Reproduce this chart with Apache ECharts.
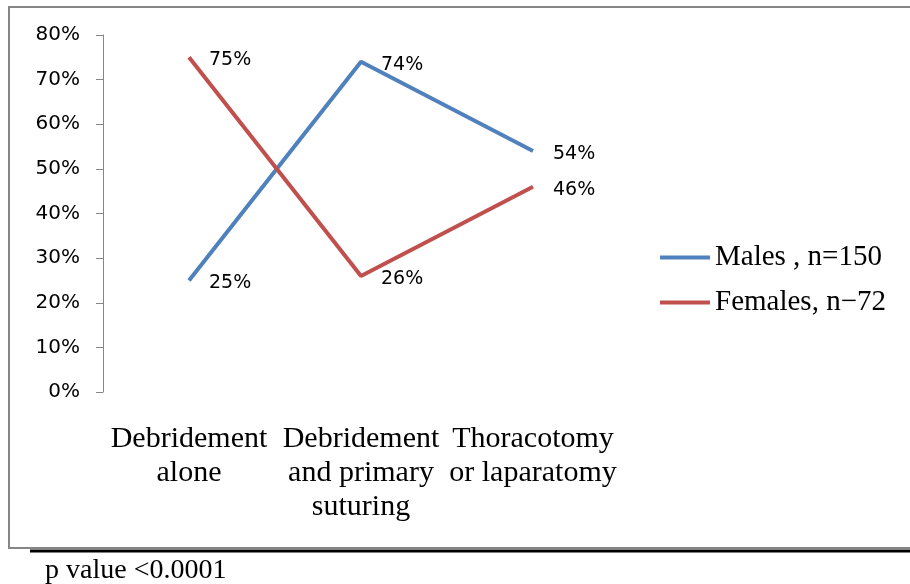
<!DOCTYPE html>
<html>
<head>
<meta charset="utf-8">
<script src="https://cdn.jsdelivr.net/npm/echarts@6/dist/echarts.min.js"></script>
<style>
html,body{margin:0;padding:0;background:#fff;}
#c{width:910px;height:584px;}
</style>
</head>
<body>
<div id="c"></div>
<script>
const categories = ['Debridement\nalone', 'Debridement\nand primary\nsuturing', 'Thoracotomy\nor laparatomy'];
const males = [25, 74, 54];
const females = [75, 26, 46];
const yTicks = [0, 10, 20, 30, 40, 50, 60, 70, 80];
const seriesNames = ['Males , n=150', 'Females, n\u221272'];
const note = 'p value <0.0001';

const chart = echarts.init(document.getElementById('c'));
const labelFont = {show: true, position: 'right', distance: 20, offset: [0, 3], formatter: p => p.value + '%',
  fontFamily: 'DejaVu Sans', fontSize: 19, color: '#000'};
chart.setOption({
  animation: false,
  backgroundColor: '#fff',
  grid: {left: 103, right: 291, top: 35, bottom: 192},
  legend: {
    orient: 'vertical', left: 655, top: 238, itemGap: 16,
    itemWidth: 50, itemHeight: 4, icon: 'rect',
    textStyle: {fontFamily: 'Liberation Serif', fontSize: 29, color: '#000'},
    data: seriesNames
  },
  xAxis: {
    type: 'category', data: categories, boundaryGap: true,
    axisLine: {show: false}, axisTick: {show: false},
    axisLabel: {interval: 0, margin: 30, fontFamily: 'Liberation Serif', fontSize: 30, lineHeight: 34, color: '#000'}
  },
  yAxis: {
    type: 'value', min: yTicks[0], max: yTicks[yTicks.length - 1], interval: 10,
    axisLine: {show: true, lineStyle: {color: '#868686', width: 1}},
    axisTick: {show: true, length: 7, lineStyle: {color: '#868686'}},
    splitLine: {show: false},
    axisLabel: {margin: 23, formatter: v => v + '%', fontFamily: 'DejaVu Sans', fontSize: 20, color: '#000'}
  },
  series: [
    {name: seriesNames[0], type: 'line', data: males, symbol: 'circle', symbolSize: 0, color: '#4F81BD',
     lineStyle: {width: 4, color: '#4F81BD'}, label: labelFont},
    {name: seriesNames[1], type: 'line', data: females, symbol: 'circle', symbolSize: 0, color: '#C0504D',
     lineStyle: {width: 4, color: '#C0504D'}, label: labelFont}
  ],
  graphic: [
    {type: 'rect', shape: {x: 9, y: 7, width: 1000, height: 541}, style: {fill: 'none', stroke: '#868686', lineWidth: 2}, silent: true},
    {type: 'line', shape: {x1: 30, y1: 551, x2: 910, y2: 551}, style: {stroke: '#000', lineWidth: 3}, silent: true},
    {type: 'text', left: 45, top: 557, style: {text: note, fontFamily: 'Liberation Serif', fontSize: 28, fill: '#000'}}
  ]
});
</script>
</body>
</html>
